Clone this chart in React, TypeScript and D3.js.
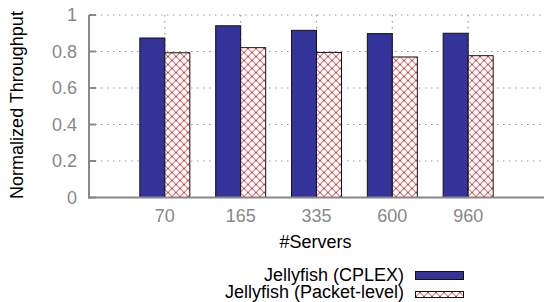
import React from "react";
import * as d3 from "d3";

const categories = ["70", "165", "335", "600", "960"];
const cplex = [0.874, 0.941, 0.916, 0.898, 0.9];
const packetLevel = [0.793, 0.821, 0.795, 0.77, 0.777];
const yTicks = [0, 0.2, 0.4, 0.6, 0.8, 1];
const yTickLabels = ["0", "0.2", "0.4", "0.6", "0.8", "1"];
const seriesNames = ["Jellyfish (CPLEX)", "Jellyfish (Packet-level)"];

const W = 544;
const H = 302;
const FONT = "'Liberation Sans', Arial, Helvetica, sans-serif";

export default function App() {
  const x = d3.scaleLinear().domain([-1, 5]).range([89, 544]);
  const y = d3.scaleLinear().domain([0, 1]).range([197.5, 15]);
  const bw = 25;
  const grey = "#888";
  return (
    <svg
      width={W}
      height={H}
      style={{ position: "absolute", left: 0, top: 0, background: "#fff" }}
      fontFamily={FONT}
    >
      <defs>
        <pattern id="xhatch" patternUnits="userSpaceOnUse" width={8} height={8} x={0} y={0.5}>
          <rect width={8} height={8} fill="#fff" />
          <path d="M0,0 L8,8 M8,0 L0,8" stroke="#e03a3a" strokeWidth={1} />
        </pattern>
      </defs>
      <rect width={W} height={H} fill="#fff" />
      {/* horizontal grid */}
      {yTicks.slice(1).map((t) => (
        <line
          key={"g" + t}
          x1={89}
          x2={544}
          y1={y(t)}
          y2={y(t)}
          stroke="#999"
          strokeWidth={1.2}
          strokeDasharray="1.5,4.5"
        />
      ))}
      {/* vertical grid */}
      {categories.map((c, i) => (
        <line
          key={"v" + c}
          x1={x(i)}
          x2={x(i)}
          y1={y(1)}
          y2={y(0)}
          stroke="#999"
          strokeWidth={1.2}
          strokeDasharray="1.5,4.5"
        />
      ))}
      {/* bars */}
      {categories.map((c, i) => (
        <g key={"b" + c}>
          <rect
            x={x(i) - bw}
            y={y(cplex[i])}
            width={bw}
            height={y(0) - y(cplex[i])}
            fill="#333399"
            stroke="#111"
            strokeWidth={1}
          />
          <rect
            x={x(i)}
            y={y(packetLevel[i])}
            width={bw}
            height={y(0) - y(packetLevel[i])}
            fill="url(#xhatch)"
            stroke="#111"
            strokeWidth={1}
          />
        </g>
      ))}
      {/* axes */}
      <line x1={89} x2={89} y1={y(1)} y2={y(0) + 1} stroke={grey} strokeWidth={2} />
      <line x1={88} x2={544} y1={y(0)} y2={y(0)} stroke={grey} strokeWidth={2} />
      {yTicks.map((t) => (
        <line key={"t" + t} x1={89} x2={96} y1={y(t)} y2={y(t)} stroke={grey} strokeWidth={2} />
      ))}
      {yTicks.map((t, i) => (
        <text
          key={"yl" + t}
          x={77}
          y={y(t) + 6}
          textAnchor="end"
          fontSize={18}
          fill={grey}
        >
          {yTickLabels[i]}
        </text>
      ))}
      {categories.map((c, i) => (
        <text key={"xl" + c} x={x(i)} y={222} textAnchor="middle" fontSize={18} fill={grey}>
          {c}
        </text>
      ))}
      <text x={315.5} y={248} textAnchor="middle" fontSize={18} fill="#000">
        #Servers
      </text>
      <text
        transform={`translate(23,105) rotate(-90)`}
        textAnchor="middle"
        fontSize={18}
        fill="#000"
      >
        Normalized Throughput
      </text>
      {/* legend */}
      <text x={404} y={280.5} textAnchor="end" fontSize={18} fill="#000">
        {seriesNames[0]}
      </text>
      <rect x={415.5} y={271.5} width={48} height={8} fill="#333399" stroke="#111" strokeWidth={1} />
      <text x={404} y={297.5} textAnchor="end" fontSize={18} fill="#000">
        {seriesNames[1]}
      </text>
      <rect x={415.5} y={291.5} width={48} height={6} fill="url(#xhatch)" stroke="#111" strokeWidth={1} />
    </svg>
  );
}
